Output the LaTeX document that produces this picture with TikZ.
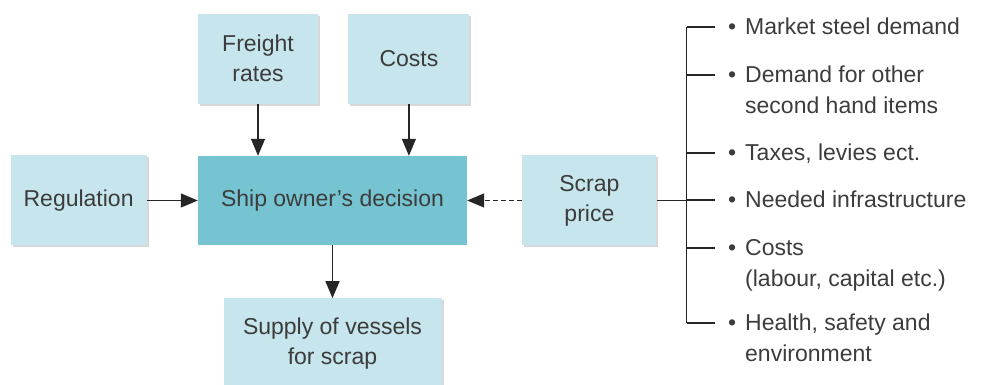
\documentclass[tikz,border=0pt]{standalone}
\usepackage{fontspec}
\setmainfont{Liberation Sans}
\usetikzlibrary{arrows.meta,positioning,calc,shadows}
\definecolor{PaleTeal}{HTML}{C6E5EC}
\definecolor{MidTeal}{HTML}{76C4D1}
\definecolor{TextGrey}{HTML}{3C3C3C}

\begin{document}
\begin{tikzpicture}[x=1pt,y=1pt,
  font=\fontsize{23}{30}\selectfont,text=TextGrey,
  box/.style={fill=PaleTeal,align=center,inner sep=0pt,minimum height=90pt,
    drop shadow={shadow xshift=2pt,shadow yshift=-2pt,fill=black!30}},
  arr/.style={-{Triangle[length=17pt,width=14pt]},line width=1.3pt,draw=black!85},
  tick/.style={line width=1.1pt,draw=black!85},
  item/.style={anchor=west,inner sep=0pt,text height=16pt,text depth=0pt},
  itemcont/.style={anchor=north west,inner sep=0pt,text height=16pt,text depth=0pt}]
\useasboundingbox (0,0) rectangle (982,385);
\node[fill=MidTeal,inner sep=0pt,minimum width=269pt,minimum height=89pt] (ship) at (332.5,184.5) {Ship owner's decision};
\node[box,minimum width=120pt,above=52pt of ship.north west,anchor=south west] (freight) {Freight\\rates};
\node[box,minimum width=121pt,right=30pt of freight] (costs) {Costs};
\node[box,minimum width=136pt,left=51pt of ship] (reg) {Regulation};
\node[box,minimum width=134pt,right=55pt of ship] (scrap) {Scrap\\price};
\node[box,minimum width=218pt,below=53pt of ship] (supply) {Supply of vessels\\for scrap};
\draw[arr] (freight) -- (freight |- ship.north);
\draw[arr] (costs) -- (costs |- ship.north);
\draw[arr] (reg) -- (ship);
\draw[arr,dash pattern=on 5pt off 3pt] (scrap) -- (ship);
\draw[arr] (ship) -- (supply);
% scrap price factors
\coordinate[right=30pt of scrap] (bar);
\foreach \n/\yy/\txt in {1/358/Market steel demand,2/310/Demand for other,
  3/232/{Taxes, levies ect.},4/185/Needed infrastructure,5/137/Costs,
  6/62/{Health, safety and}}
  \node[item] (i\n) at (728,\yy) {\makebox[17pt][l]{\textbullet}\txt};
\node[itemcont] (i2b) at ([xshift=17pt,yshift=-14pt]i2.south west) {second hand items};
\node[itemcont] (i5b) at ([xshift=17pt,yshift=-14pt]i5.south west) {(labour, capital etc.)};
\node[itemcont] (i6b) at ([xshift=17pt,yshift=-14pt]i6.south west) {environment};
\draw[tick] (scrap.east) -- (bar);
\draw[tick] (bar |- i1.west) -- (bar |- i6.west);
\foreach \n in {1,...,6}
  \draw[tick] (bar |- i\n.west) -- ([xshift=-13pt]i\n.west);
\end{tikzpicture}
\end{document}
